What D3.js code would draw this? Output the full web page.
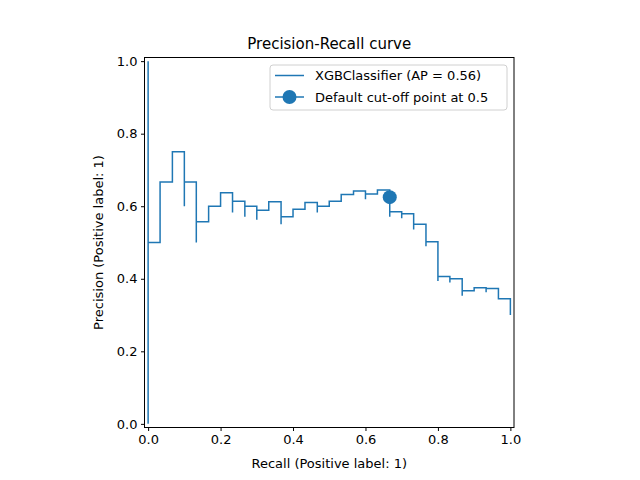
<!DOCTYPE html>
<html>
<head>
<meta charset="utf-8">
<script src="https://cdn.jsdelivr.net/npm/d3@7"></script>
<style>
  body { margin: 0; background: #fff; }
  text { font-family: "DejaVu Sans", sans-serif; }
</style>
</head>
<body>
<div id="chart"></div>
<script>
// step points, right to left (recall, precision)
const recall = [1.0, 1.0, 0.967, 0.933, 0.933, 0.9, 0.867, 0.867, 0.833, 0.833, 0.8, 0.8,
  0.767, 0.767, 0.733, 0.733, 0.7, 0.7, 0.667, 0.667, 0.633, 0.6, 0.6, 0.567, 0.533, 0.5,
  0.467, 0.467, 0.433, 0.4, 0.367, 0.367, 0.333, 0.3, 0.3, 0.267, 0.267, 0.233, 0.233, 0.2,
  0.167, 0.133, 0.133, 0.1, 0.1, 0.067, 0.033, 0, 0];
const precision = [0.30, 0.345, 0.373, 0.363, 0.375, 0.367, 0.353, 0.4, 0.39, 0.406, 0.394, 0.502,
  0.49, 0.55, 0.536, 0.579, 0.567, 0.585, 0.571, 0.645, 0.634, 0.619, 0.642, 0.632, 0.614, 0.6,
  0.583, 0.61, 0.592, 0.571, 0.55, 0.612, 0.589, 0.5625, 0.6, 0.571, 0.614, 0.583, 0.637, 0.6,
  0.557, 0.5, 0.667, 0.6, 0.75, 0.667, 0.5, 0, 1];
const cutoff = [0.667, 0.625];
const ticks = [0, 0.2, 0.4, 0.6, 0.8, 1.0];
const labels = ["XGBClassifier (AP = 0.56)", "Default cut-off point at 0.5"];

const W = 640, H = 480;
const margin = {top: 57.5, left: 144.5, right: 126, bottom: 52.5};
const width = W - margin.left - margin.right,
      height = H - margin.top - margin.bottom;
const blue = "#1f77b4";

const svg = d3.select("#chart").append("svg")
  .attr("width", W).attr("height", H);
const g = svg.append("g")
  .attr("transform", "translate(" + margin.left + "," + margin.top + ")");

const x = d3.scaleLinear().domain([-0.01, 1.01]).range([0, width]);
const y = d3.scaleLinear().domain([-0.01, 1.01]).range([height, 0]);

const pts = recall.map((r, i) => [r, precision[i]]);
const line = d3.line()
  .x(d => x(d[0])).y(d => y(d[1]))
  .curve(d3.curveStepAfter);

g.append("path").datum(pts)
  .attr("fill", "none").attr("stroke", blue)
  .attr("stroke-width", 1.5).attr("d", line);

g.append("circle")
  .attr("cx", x(cutoff[0])).attr("cy", y(cutoff[1]))
  .attr("r", 7).attr("fill", blue);

const xa = g.append("g").attr("transform", "translate(0," + height + ")")
  .call(d3.axisBottom(x).tickValues(ticks).tickFormat(d3.format(".1f")).tickSize(3.5).tickPadding(3.5));
const ya = g.append("g")
  .call(d3.axisLeft(y).tickValues(ticks).tickFormat(d3.format(".1f")).tickSize(3.5).tickPadding(3.5));
[xa, ya].forEach(a => {
  a.select(".domain").remove();
  a.selectAll("text").attr("font-size", 13).attr("fill", "#000")
    .style("font-family", "DejaVu Sans");
  a.selectAll("line").attr("stroke", "#000");
});

g.append("rect").attr("width", width).attr("height", height)
  .attr("fill", "none").attr("stroke", "#000").attr("stroke-width", 1);

svg.append("text").attr("x", margin.left + width / 2).attr("y", 49)
  .attr("text-anchor", "middle").attr("font-size", 15).text("Precision-Recall curve");
svg.append("text").attr("x", margin.left + width / 2).attr("y", 468)
  .attr("text-anchor", "middle").attr("font-size", 13).text("Recall (Positive label: 1)");
svg.append("text")
  .attr("transform", "translate(103," + (margin.top + height / 2) + ") rotate(-90)")
  .attr("text-anchor", "middle").attr("font-size", 13).text("Precision (Positive label: 1)");

// legend
const lg = svg.append("g");
lg.append("rect").attr("x", 270).attr("y", 65).attr("width", 237).attr("height", 45)
  .attr("rx", 3).attr("fill", "#fff").attr("fill-opacity", 0.8)
  .attr("stroke", "#d0d0d0");
labels.forEach((t, i) => {
  const ly = 75.5 + i * 21.5;
  lg.append("line").attr("x1", 275).attr("x2", 304).attr("y1", ly).attr("y2", ly)
    .attr("stroke", blue).attr("stroke-width", 1.5);
  if (i === 1) lg.append("circle").attr("cx", 289.5).attr("cy", ly).attr("r", 7).attr("fill", blue);
  lg.append("text").attr("x", 315).attr("y", ly + 4.5).attr("font-size", 13).text(t);
});
</script>
</body>
</html>
